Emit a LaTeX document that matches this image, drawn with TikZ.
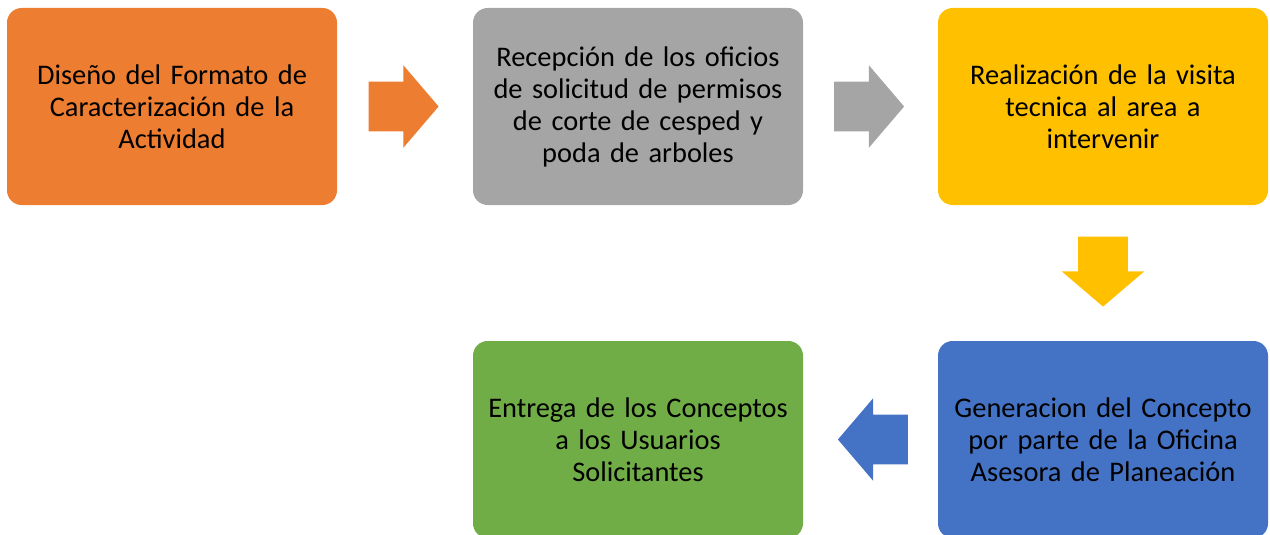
\documentclass[tikz,border=0pt]{standalone}
\usepackage{fontspec}
\setmainfont{Carlito}
\usetikzlibrary{shapes.arrows,positioning,calc}
\definecolor{stepOrange}{HTML}{ED7D31}
\definecolor{stepGray}{HTML}{A5A5A5}
\definecolor{stepYellow}{HTML}{FFC000}
\definecolor{stepBlue}{HTML}{4472C4}
\definecolor{stepGreen}{HTML}{70AD47}

\begin{document}
\begin{tikzpicture}[x=0.75pt, y=0.75pt,
    box/.style={rounded corners=11pt, minimum width=247.5pt, minimum height=147.75pt,
        inner sep=1pt, text width=245pt, align=center,
        font=\fontsize{21.3}{24}\selectfont},
    flow/.style={single arrow, draw=none, inner xsep=0pt, inner ysep=18.4pt,
        minimum height=52.5pt, single arrow head extend=12.4pt,
        single arrow tip angle=99}]
        \useasboundingbox (0,0) rectangle (1270,-535);

        \node[box, fill=stepOrange] (disenio) at (172,-106.5) {Diseño del Formato de\\Caracterización de la\\Actividad};
        \node[box, fill=stepGray] (recepcion) at (638,-106.5) {Recepción de los oficios\\de solicitud de permisos\\de corte de cesped y\\poda de arboles};
        \node[box, fill=stepYellow] (visita) at (1103,-106.5) {Realización de la visita\\tecnica al area a\\intervenir};
        \node[box, fill=stepBlue] (concepto) at (1103,-439.5) {Generacion del Concepto\\por parte de la Oficina\\Asesora de Planeación};
        \node[box, fill=stepGreen] (entrega) at (638,-439.5) {Entrega de los Conceptos\\a los Usuarios\\Solicitantes};

        % block arrows between the steps
        \node[flow, fill=stepOrange] (flecha1) at ($(disenio.east)!0.5!(recepcion.west)+(-12,0)$) {};
        \node[flow, fill=stepGray] (flecha2) at ($(recepcion.east)!0.5!(visita.west)+(-12,0)$) {};
        \node[flow, fill=stepYellow, rotate=-90] (flecha3) at ($(visita.south)!0.5!(concepto.north)+(0,12)$) {};
        \node[flow, fill=stepBlue, rotate=180] (flecha4) at ($(concepto.west)!0.5!(entrega.east)+(13,0)$) {};
    \end{tikzpicture}
\end{document}
